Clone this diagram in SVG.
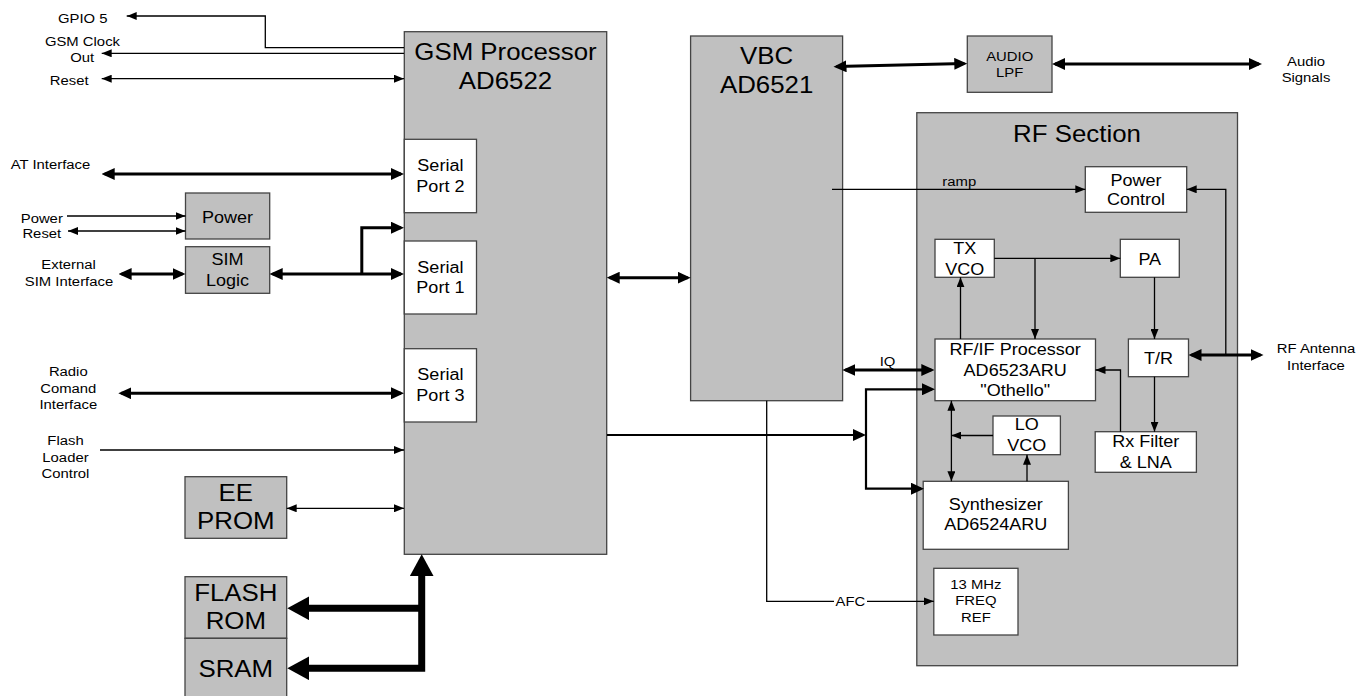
<svg xmlns="http://www.w3.org/2000/svg" width="1372" height="696" viewBox="0 0 1372 696">
<style>
text{font-family:"Liberation Sans",Arial,sans-serif;fill:#000;text-anchor:middle;transform-box:fill-box;transform-origin:center;transform:scaleX(1.1)}
.f1{font-size:23.5px}
.f2{font-size:16.4px}
.f3{font-size:13.5px}
.g{fill:#c0c0c0;stroke:#444;stroke-width:1.3}
.w{fill:#fff;stroke:#444;stroke-width:1.3}
.t{fill:none;stroke:#000;stroke-width:1.3}
.m{fill:none;stroke:#000;stroke-width:2.2}
.k{fill:none;stroke:#000;stroke-width:3}
.bus{fill:none;stroke:#000;stroke-width:7;stroke-linejoin:miter}
</style>
<defs>
<marker id="a" markerUnits="userSpaceOnUse" viewBox="0 0 10 8" markerWidth="10" markerHeight="8" refX="10" refY="4" orient="auto-start-reverse"><path d="M0,0 L10,4 L0,8 z" fill="#000"/></marker>
<marker id="b" markerUnits="userSpaceOnUse" viewBox="0 0 13 12" markerWidth="13" markerHeight="12" refX="10" refY="6" orient="auto-start-reverse"><path d="M0,0 L13,6 L0,12 z" fill="#000"/></marker>
<marker id="c" markerUnits="userSpaceOnUse" viewBox="0 0 22 24" markerWidth="22" markerHeight="24" refX="12" refY="12" orient="auto-start-reverse"><path d="M0,0 L22,12 L0,24 z" fill="#000"/></marker>
</defs>

<g id="gsm">
<rect class="g" x="404.3" y="31.7" width="202.4" height="522.6"/>
<text class="f1" x="505.5" y="60.1">GSM Processor</text>
<text class="f1" x="505.5" y="89.4">AD6522</text>
</g>
<g id="sp2"><rect class="w" x="404.3" y="139.3" width="72.2" height="73.4"/>
<text class="f2" x="440.4" y="170.9">Serial</text><text class="f2" x="440.4" y="191.6">Port 2</text></g>
<g id="sp1"><rect class="w" x="404.3" y="241" width="72.2" height="73"/>
<text class="f2" x="440.4" y="272.6">Serial</text><text class="f2" x="440.4" y="293.2">Port 1</text></g>
<g id="sp3"><rect class="w" x="404.3" y="348.7" width="72.2" height="73.3"/>
<text class="f2" x="440.4" y="379.9">Serial</text><text class="f2" x="440.4" y="400.9">Port 3</text></g>

<g id="power"><rect class="g" x="185.5" y="193" width="84.2" height="46"/>
<text class="f2" x="227.6" y="222.6">Power</text></g>
<g id="sim"><rect class="g" x="185.5" y="246.7" width="84.2" height="46.6"/>
<text class="f2" x="227.6" y="264.9">SIM</text><text class="f2" x="227.6" y="285.9">Logic</text></g>
<g id="eeprom"><rect class="g" x="185" y="476.7" width="101.7" height="61.6"/>
<text class="f1" x="235.8" y="501.1">EE</text><text class="f1" x="235.8" y="529.4">PROM</text></g>
<g id="flash"><rect class="g" x="185" y="576.7" width="101.7" height="61.6"/>
<text class="f1" x="235.8" y="601.1">FLASH</text><text class="f1" x="235.8" y="629.4">ROM</text></g>
<g id="sram"><rect class="g" x="185" y="638.3" width="101.7" height="62"/>
<text class="f1" x="235.8" y="676.7">SRAM</text></g>

<g id="vbc"><rect class="g" x="690.6" y="36" width="152" height="364.7"/>
<text class="f1" x="766.6" y="64.4">VBC</text><text class="f1" x="766.6" y="93.4">AD6521</text></g>
<g id="audiolpf"><rect class="g" x="967.3" y="36" width="84.7" height="56.3"/>
<text class="f3" x="1009.7" y="60.8">AUDIO</text><text class="f3" x="1009.7" y="77.5">LPF</text></g>

<g id="rfsection"><rect class="g" x="916.8" y="112.7" width="320.7" height="553"/>
<text class="f1" x="1077" y="141.7">RF Section</text></g>
<g id="powerctl"><rect class="w" x="1085.3" y="166.7" width="101.4" height="45.6"/>
<text class="f2" x="1136" y="185.9">Power</text><text class="f2" x="1136" y="205.2">Control</text></g>
<g id="txvco"><rect class="w" x="935" y="239.3" width="59.3" height="38"/>
<text class="f2" x="964.7" y="253.6">TX</text><text class="f2" x="964.7" y="275">VCO</text></g>
<g id="pa"><rect class="w" x="1120.3" y="239.3" width="59" height="38"/>
<text class="f2" x="1149.8" y="265.2">PA</text></g>
<g id="rfif"><rect class="w" x="935" y="339" width="160.5" height="61.7"/>
<text class="f2" x="1015.2" y="355.2">RF/IF Processor</text><text class="f2" x="1015.2" y="375.6">AD6523ARU</text><text class="f2" x="1015.2" y="396.2">"Othello"</text></g>
<g id="tr"><rect class="w" x="1128.4" y="339" width="60.1" height="37.7"/>
<text class="f2" x="1158.5" y="364.2">T/R</text></g>
<g id="lovco"><rect class="w" x="993" y="416" width="67.4" height="38.7"/>
<text class="f2" x="1026.7" y="430.2">LO</text><text class="f2" x="1026.7" y="451.2">VCO</text></g>
<g id="rxfilter"><rect class="w" x="1095.2" y="431.7" width="101.2" height="40.6"/>
<text class="f2" x="1145.8" y="446.6">Rx Filter</text><text class="f2" x="1145.8" y="467.6">&amp; LNA</text></g>
<g id="synth"><rect class="w" x="923.2" y="481.3" width="145.2" height="68"/>
<text class="f2" x="995.8" y="510.2">Synthesizer</text><text class="f2" x="995.8" y="530.2">AD6524ARU</text></g>
<g id="freqref"><rect class="w" x="933.8" y="568.3" width="84.2" height="66.7"/>
<text class="f3" x="975.9" y="588.8">13 MHz</text><text class="f3" x="975.9" y="605.5">FREQ</text><text class="f3" x="975.9" y="622.1">REF</text></g>

<g id="connectors">
<polyline class="t" points="404,47.7 265.3,47.7 265.3,16 126.7,16" marker-end="url(#a)"/>
<line class="t" x1="404" y1="53.3" x2="101.7" y2="53.3" marker-end="url(#a)"/>
<line class="t" x1="101.7" y1="78.7" x2="404" y2="78.7" marker-start="url(#a)" marker-end="url(#a)"/>
<line class="t" x1="67" y1="216" x2="185.5" y2="216" marker-end="url(#a)"/>
<line class="t" x1="68" y1="231" x2="185.5" y2="231" marker-start="url(#a)" marker-end="url(#a)"/>
<line class="t" x1="100" y1="450" x2="404" y2="450" marker-end="url(#a)"/>
<line class="t" x1="286.7" y1="508.3" x2="404" y2="508.3" marker-start="url(#a)" marker-end="url(#a)"/>
<line class="t" x1="832" y1="189.3" x2="1085.3" y2="189.3" marker-end="url(#a)"/>
<polyline class="t" points="1225.8,355 1225.8,189.3 1186.7,189.3" marker-end="url(#a)"/>
<line class="t" x1="994.3" y1="258.3" x2="1120.3" y2="258.3" marker-end="url(#a)"/>
<line class="t" x1="1035" y1="258.3" x2="1035" y2="339" marker-end="url(#a)"/>
<line class="t" x1="960.5" y1="339" x2="960.5" y2="277.3" marker-end="url(#a)"/>
<line class="t" x1="1154.5" y1="277.3" x2="1154.5" y2="339" marker-end="url(#a)"/>
<line class="t" x1="1154.5" y1="376.7" x2="1154.5" y2="431.7" marker-end="url(#a)"/>
<polyline class="t" points="1120.5,431.7 1120.5,370 1095.5,370" marker-end="url(#a)"/>
<line class="t" x1="993" y1="435.5" x2="951.4" y2="435.5" marker-end="url(#a)"/>
<line class="t" x1="951.4" y1="400.7" x2="951.4" y2="481.3" marker-start="url(#a)" marker-end="url(#a)"/>
<line class="t" x1="1027" y1="481.3" x2="1027" y2="454.7" marker-end="url(#a)"/>
<polyline class="t" points="766.7,400.7 766.7,601.3 933.8,601.3" marker-end="url(#a)"/>
<rect x="834" y="594" width="33" height="14" fill="#fff"/>
<text class="f3" x="850.4" y="606.1">AFC</text>

<line class="m" x1="607" y1="435" x2="863" y2="435" marker-end="url(#b)"/>
<polyline class="m" points="932,389.3 866,389.3 866,488.7 921,488.7" marker-start="url(#b)" marker-end="url(#b)"/>

<line class="k" x1="104.7" y1="174" x2="401" y2="174" marker-start="url(#b)" marker-end="url(#b)"/>
<line class="k" x1="121.6" y1="274" x2="182.5" y2="274" marker-start="url(#b)" marker-end="url(#b)"/>
<line class="k" x1="272.7" y1="274" x2="401" y2="274" marker-start="url(#b)" marker-end="url(#b)"/>
<polyline class="k" points="361.8,274 361.8,227.7 401,227.7" marker-end="url(#b)"/>
<line class="k" x1="121.3" y1="393.3" x2="401" y2="393.3" marker-start="url(#b)" marker-end="url(#b)"/>
<line class="k" x1="609.7" y1="277.7" x2="687.7" y2="277.7" marker-start="url(#b)" marker-end="url(#b)"/>
<line class="k" x1="836.5" y1="66.6" x2="964.3" y2="63.6" marker-start="url(#b)" marker-end="url(#b)"/>
<line class="k" x1="1055" y1="64" x2="1259" y2="64" marker-start="url(#b)" marker-end="url(#b)"/>
<line class="k" x1="845.4" y1="370" x2="931.3" y2="370" marker-start="url(#b)" marker-end="url(#b)"/>
<line class="k" x1="1191.5" y1="355" x2="1260.5" y2="355" marker-start="url(#b)" marker-end="url(#b)"/>
<text class="f3" x="887.5" y="365.8">IQ</text>
<text class="f3" x="959.3" y="185.8">ramp</text>

<polyline class="bus" points="297.3,668.3 421.7,668.3 421.7,564.3" marker-start="url(#c)" marker-end="url(#c)"/>
<line class="bus" x1="421.7" y1="608.3" x2="297.3" y2="608.3" marker-end="url(#c)"/>
</g>

<g id="labels">
<text class="f3" x="82.8" y="23.1">GPIO 5</text>
<text class="f3" x="82.5" y="46.5">GSM Clock</text>
<text class="f3" x="82.2" y="62.1">Out</text>
<text class="f3" x="69.2" y="84.8">Reset</text>
<text class="f3" x="50.5" y="168.8">AT Interface</text>
<text class="f3" x="41.8" y="223.1">Power</text>
<text class="f3" x="41.8" y="238.1">Reset</text>
<text class="f3" x="68.6" y="268.8">External</text>
<text class="f3" x="69" y="286.5">SIM Interface</text>
<text class="f3" x="68.3" y="376.5">Radio</text>
<text class="f3" x="68.3" y="393.1">Comand</text>
<text class="f3" x="68.3" y="409.1">Interface</text>
<text class="f3" x="65.5" y="444.8">Flash</text>
<text class="f3" x="65.5" y="462.1">Loader</text>
<text class="f3" x="65.5" y="478.1">Control</text>
<text class="f3" x="1306" y="66.5">Audio</text>
<text class="f3" x="1306" y="82.5">Signals</text>
<text class="f3" x="1316" y="353.1">RF Antenna</text>
<text class="f3" x="1316" y="370.5">Interface</text>
</g>
</svg>
